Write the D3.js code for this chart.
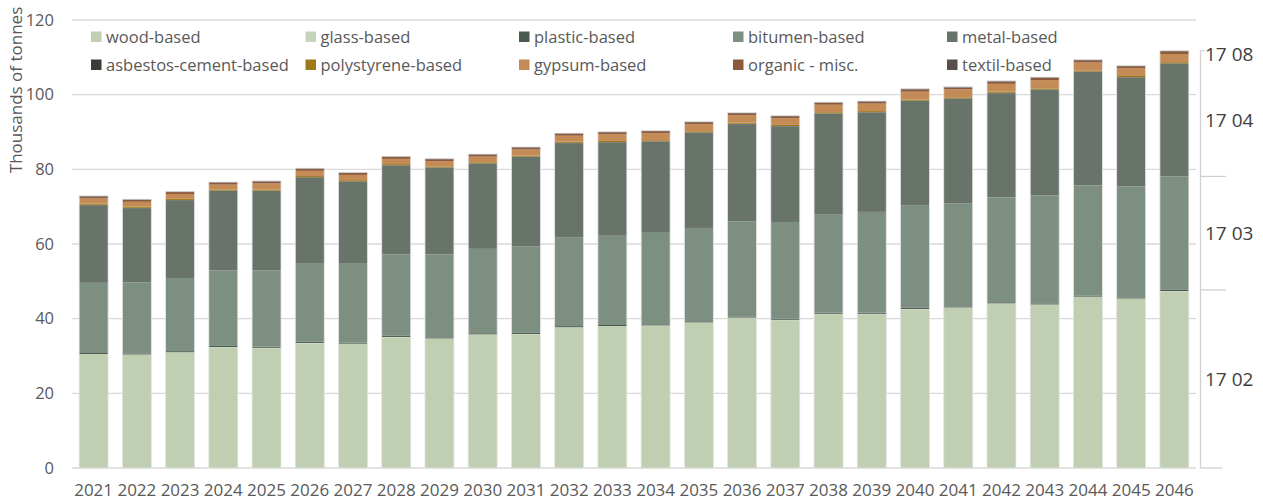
<!DOCTYPE html>
<html>
<head>
<meta charset="utf-8">
<script src="https://cdn.jsdelivr.net/npm/d3@7"></script>
<style>
  html, body { margin: 0; padding: 0; background: #ffffff; }
  svg { display: block; font-family: "Open Sans", "Noto Sans", sans-serif; }
</style>
</head>
<body>
<svg id="chart" width="1263" height="502"></svg>
<script>
// Construction and demolition waste by material type, thousands of tonnes
const years = ["2021","2022","2023","2024","2025","2026","2027","2028","2029","2030","2031","2032","2033",
               "2034","2035","2036","2037","2038","2039","2040","2041","2042","2043","2044","2045","2046"];

const seriesNames = ["wood-based","glass-based","plastic-based","bitumen-based","metal-based",
                     "asbestos-cement-based","polystyrene-based","gypsum-based","organic - misc.","textil-based"];

const wood        = [30.4,30.3,30.9,32.3,32.1,33.4,33.2,35.0,34.6,35.7,35.8,37.6,37.9,38.1,38.9,40.2,39.6,41.2,41.2,42.5,42.9,44.0,43.7,45.8,45.3,47.3];
const glass       = [0.1,0.1,0.1,0.1,0.1,0.1,0.1,0.1,0.1,0.1,0.1,0.1,0.1,0.1,0.1,0.1,0.1,0.1,0.1,0.1,0.1,0.1,0.1,0.1,0.1,0.1];
const plastic     = [0.3,0.3,0.3,0.3,0.3,0.3,0.3,0.3,0.3,0.3,0.3,0.3,0.3,0.3,0.3,0.3,0.3,0.3,0.3,0.3,0.3,0.3,0.3,0.3,0.3,0.3];
const bitumen     = [18.8,19.0,19.6,20.2,20.4,21.1,21.3,21.8,22.2,22.6,23.1,23.7,23.9,24.5,25.0,25.5,25.9,26.4,27.0,27.5,27.6,28.1,28.9,29.5,29.7,30.4];
const metal       = [20.8,19.9,20.8,21.3,21.3,22.9,21.8,23.8,23.2,22.8,24.0,25.3,25.0,24.4,25.5,26.0,25.6,26.9,26.6,27.9,28.0,27.9,28.3,30.4,29.2,30.2];
const asbestos    = [0.1,0.1,0.1,0.1,0.1,0.1,0.1,0.1,0.1,0.1,0.1,0.1,0.1,0.1,0.1,0.1,0.1,0.1,0.1,0.1,0.1,0.1,0.1,0.1,0.1,0.1];
const polystyrene = [0.3,0.3,0.3,0.3,0.3,0.3,0.3,0.3,0.3,0.3,0.3,0.3,0.3,0.3,0.3,0.3,0.3,0.3,0.3,0.3,0.3,0.3,0.3,0.3,0.3,0.3];
const gypsum      = [1.4,1.3,1.3,1.3,1.6,1.4,1.4,1.4,1.4,1.5,1.6,1.6,1.8,1.9,1.9,2.0,1.8,2.0,2.0,2.1,2.1,2.1,2.2,2.1,2.1,2.2];
const organic     = [0.5,0.5,0.5,0.5,0.5,0.5,0.5,0.5,0.5,0.5,0.5,0.5,0.5,0.5,0.5,0.5,0.5,0.5,0.5,0.6,0.5,0.6,0.6,0.6,0.5,0.7];
const textil      = [0.2,0.2,0.2,0.2,0.2,0.2,0.2,0.2,0.2,0.2,0.2,0.2,0.2,0.2,0.2,0.2,0.2,0.2,0.2,0.2,0.2,0.2,0.2,0.2,0.2,0.2];

const seriesValues = [wood, glass, plastic, bitumen, metal, asbestos, polystyrene, gypsum, organic, textil];
const seriesColors = ["#c0cfb1","#c6d4bb","#4b5a50","#7c8f81","#68736a","#3d3a38","#9c7a18","#c48b57","#8c5a3a","#584f4b"];

const yTicks = [0, 20, 40, 60, 80, 100, 120];

// waste catalogue codes grouping the material series (right-hand axis)
const codeGroups = [
  { code: "17 02", members: ["wood-based","glass-based","plastic-based"] },
  { code: "17 03", members: ["bitumen-based"] },
  { code: "17 04", members: ["metal-based"] },
  { code: "17 08", members: ["asbestos-cement-based","polystyrene-based","gypsum-based","organic - misc.","textil-based"] }
];

const svg = d3.select("#chart");
const plot = { left: 72, right: 1196, top: 20, bottom: 468 };

const x = d3.scaleBand().domain(years).range([plot.left, plot.right]).paddingInner(0.33).paddingOuter(0.165);
const y = d3.scaleLinear().domain([0, 120]).range([plot.bottom, plot.top]);

// gridlines
svg.append("g").selectAll("line").data(yTicks).join("line")
  .attr("x1", plot.left).attr("x2", plot.right)
  .attr("y1", d => y(d)).attr("y2", d => y(d))
  .attr("stroke", "#d9d9d9").attr("stroke-width", 1.3);

// left axis
const yAxis = svg.append("g").attr("transform", `translate(${plot.left},0)`)
  .call(d3.axisLeft(y).tickValues(yTicks).tickSize(0).tickPadding(18));
yAxis.select(".domain").remove();
yAxis.selectAll("text").attr("font-size", 16.5).attr("fill", "#595959")
  .attr("font-family", "'Open Sans', sans-serif");

svg.append("text")
  .attr("transform", "translate(22,90) rotate(-90)")
  .attr("text-anchor", "middle")
  .attr("font-size", 17).attr("fill", "#595959")
  .text("Thousands of tonnes");

// stacked bars
const table = years.map((yr, i) => {
  const row = { year: yr };
  seriesNames.forEach((s, k) => { row[s] = seriesValues[k][i]; });
  return row;
});
const stacked = d3.stack().keys(seriesNames)(table);
const color = d3.scaleOrdinal().domain(seriesNames).range(seriesColors);

svg.append("g").selectAll("g").data(stacked).join("g")
  .attr("fill", d => color(d.key))
  .selectAll("rect").data(d => d).join("rect")
  .attr("x", d => x(d.data.year))
  .attr("width", x.bandwidth())
  .attr("y", d => y(d[1]))
  .attr("height", d => Math.max(0, y(d[0]) - y(d[1])));

// faint outline around each bar
svg.append("g").selectAll("rect").data(table).join("rect")
  .attr("x", d => x(d.year))
  .attr("width", x.bandwidth())
  .attr("y", d => y(d3.sum(seriesNames, s => d[s])))
  .attr("height", d => y(0) - y(d3.sum(seriesNames, s => d[s])))
  .attr("fill", "none").attr("stroke", "#e4e4e4").attr("stroke-width", 0.8);

// bottom axis labels
const xAxis = svg.append("g").attr("transform", `translate(0,${plot.bottom})`)
  .call(d3.axisBottom(x).tickSize(0).tickPadding(16));
xAxis.select(".domain").remove();
xAxis.selectAll("text").attr("font-size", 17).attr("fill", "#595959")
  .attr("font-family", "'Open Sans', sans-serif");

// right axis: code groups measured on the last year's bar
const lastRow = table[table.length - 1];
let acc = 0;
const groupSpans = codeGroups.map(g => {
  const lo = acc;
  acc += d3.sum(g.members, m => lastRow[m]);
  return { code: g.code, lo: lo, hi: acc };
});
const axX = 1200.5;
const right = svg.append("g");
right.append("line")
  .attr("x1", axX).attr("x2", axX)
  .attr("y1", y(0)).attr("y2", y(acc))
  .attr("stroke", "#d0d0d0").attr("stroke-width", 1.3);
const boundaries = [0].concat(groupSpans.slice(0, 2).map(g => g.hi));
right.selectAll("line.tick").data(boundaries).join("line")
  .attr("class", "tick")
  .attr("x1", axX).attr("x2", (d, i) => i === 0 ? 1222 : 1226)
  .attr("y1", d => y(d)).attr("y2", d => y(d))
  .attr("stroke", "#d0d0d0").attr("stroke-width", 1.3);
right.append("line")
  .attr("x1", axX).attr("x2", axX + 4)
  .attr("y1", y(acc)).attr("y2", y(acc))
  .attr("stroke", "#d0d0d0").attr("stroke-width", 1.3);
right.selectAll("text").data(groupSpans).join("text")
  .attr("x", 1205)
  .attr("y", (d, i) => i === 3 ? y(d.hi) + 4 : y((d.lo + d.hi) / 2))
  .attr("dy", "0.35em")
  .attr("font-size", 19).attr("fill", "#404040")
  .text(d => d.code);

// legend, two rows of five
const legendCols = [91, 305.5, 519, 733, 947];
const legendRows = [37, 65];
const legend = svg.append("g").selectAll("g").data(seriesNames).join("g")
  .attr("transform", (d, i) => `translate(${legendCols[i % 5]},${legendRows[Math.floor(i / 5)]})`);
legend.append("rect")
  .attr("x", 0).attr("y", -5.5).attr("width", 10.5).attr("height", 10.5)
  .attr("fill", d => color(d));
legend.append("text")
  .attr("x", 15).attr("y", 0).attr("dy", "0.35em")
  .attr("font-size", 16.5).attr("fill", "#595959")
  .text(d => d);
</script>
</body>
</html>
